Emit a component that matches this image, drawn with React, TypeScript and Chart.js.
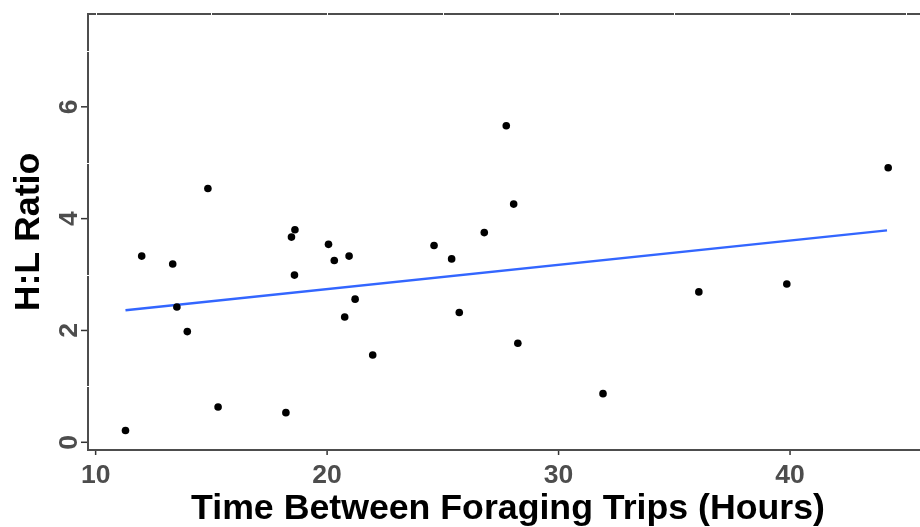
import { useEffect, useRef } from "react";
import { Chart, registerables } from "chart.js";

Chart.register(...registerables);

// Time between foraging trips (hours)
const hoursX = [
  11.29, 11.99, 13.33, 13.51, 13.96, 14.85, 15.29, 18.22, 18.46, 18.61,
  18.59, 20.06, 20.31, 20.76, 20.95, 21.21, 21.97, 24.62, 25.38, 25.71,
  26.79, 27.74, 28.06, 28.24, 31.92, 36.06, 39.86, 44.24,
];
// H:L ratio
const ratioY = [
  0.21, 3.33, 3.19, 2.42, 1.98, 4.54, 0.63, 0.53, 3.67, 3.8,
  2.99, 3.54, 3.25, 2.24, 3.33, 2.56, 1.56, 3.52, 3.28, 2.32,
  3.75, 5.66, 4.26, 1.77, 0.87, 2.69, 2.83, 4.91,
];
// fitted trend line end points
const trendX = [11.29, 44.19];
const trendY = [2.36, 3.79];

const xTicks = [10, 20, 30, 40];
const yTicks = [0, 2, 4, 6];
const xTitle = "Time Between Foraging Trips (Hours)";
const yTitle = "H:L Ratio";

const FONT = '"Liberation Sans", Arial, Helvetica, sans-serif';

const decorPlugin = {
  id: "decor",
  afterDraw(chart: any) {
    const { ctx, chartArea: a, scales } = chart;
    const x = scales.x;
    const y = scales.y;
    ctx.save();
    // top panel border
    ctx.strokeStyle = "#4d4d4d";
    ctx.lineWidth = 2;
    ctx.beginPath();
    ctx.moveTo(a.left - 1, a.top);
    ctx.lineTo(a.right, a.top);
    ctx.stroke();
    // faint white grid traces crossing the border
    ctx.strokeStyle = "#ffffff";
    ctx.lineWidth = 1;
    for (let v = 10; v <= 45; v += 5) {
      const px = Math.round(x.getPixelForValue(v)) + 0.5;
      ctx.beginPath();
      ctx.moveTo(px, a.top - 2);
      ctx.lineTo(px, a.top + 2);
      ctx.stroke();
    }
    for (const v of [1, 3, 5, 7]) {
      const py = Math.round(y.getPixelForValue(v)) + 0.5;
      ctx.beginPath();
      ctx.moveTo(a.left - 2, py);
      ctx.lineTo(a.left + 2, py);
      ctx.stroke();
    }
    // tick marks
    ctx.strokeStyle = "#333333";
    ctx.lineWidth = 1.5;
    xTicks.forEach((v) => {
      const px = x.getPixelForValue(v);
      ctx.beginPath();
      ctx.moveTo(px, a.bottom + 1);
      ctx.lineTo(px, a.bottom + 5);
      ctx.stroke();
    });
    yTicks.forEach((v) => {
      const py = y.getPixelForValue(v);
      ctx.beginPath();
      ctx.moveTo(a.left - 1, py);
      ctx.lineTo(a.left - 7, py);
      ctx.stroke();
    });
    // tick labels
    ctx.fillStyle = "#4d4d4d";
    ctx.font = `bold 26.5px ${FONT}`;
    ctx.textAlign = "center";
    ctx.textBaseline = "alphabetic";
    xTicks.forEach((v) => {
      ctx.fillText(String(v), x.getPixelForValue(v), a.bottom + 33);
    });
    yTicks.forEach((v) => {
      ctx.save();
      ctx.translate(a.left - 11.5, y.getPixelForValue(v));
      ctx.rotate(-Math.PI / 2);
      ctx.fillText(String(v), 0, 0);
      ctx.restore();
    });
    // axis titles
    ctx.fillStyle = "#000000";
    ctx.font = `bold 35.7px ${FONT}`;
    ctx.fillText(xTitle, (a.left + a.right) / 2, a.bottom + 69);
    ctx.save();
    ctx.translate(a.left - 49, (a.top + a.bottom) / 2);
    ctx.rotate(-Math.PI / 2);
    ctx.fillText(yTitle, 0, 0);
    ctx.restore();
    ctx.restore();
  },
};

export default function App() {
  const ref = useRef<HTMLCanvasElement | null>(null);

  useEffect(() => {
    if (!ref.current) return;
    const chart = new Chart(ref.current, {
      type: "scatter",
      data: {
        datasets: [
          {
            type: "line",
            data: trendX.map((v, i) => ({ x: v, y: trendY[i] })),
            borderColor: "#3366FF",
            borderWidth: 2.5,
            pointRadius: 0,
            fill: false,
            order: 1,
          } as any,
          {
            type: "scatter",
            data: hoursX.map((v, i) => ({ x: v, y: ratioY[i] })),
            backgroundColor: "#000000",
            borderColor: "#000000",
            pointRadius: 3.8,
            borderWidth: 0,
            order: 0,
          },
        ],
      },
      options: {
        animation: false,
        responsive: false,
        devicePixelRatio: 1,
        layout: { padding: { top: 14, right: 1, left: 0, bottom: 0 } },
        plugins: {
          legend: { display: false },
          tooltip: { enabled: false },
          title: { display: false },
        },
        scales: {
          x: {
            type: "linear",
            min: 9.67,
            max: 45.96,
            grid: { display: false },
            border: { display: true, color: "#4d4d4d", width: 2 },
            ticks: { display: false },
            afterFit: (s: any) => {
              s.height = 77;
            },
          },
          y: {
            type: "linear",
            min: -0.138,
            max: 7.66,
            grid: { display: false },
            border: { display: true, color: "#4d4d4d", width: 2 },
            ticks: { display: false },
            afterFit: (s: any) => {
              s.width = 88;
            },
          },
        },
      },
      plugins: [decorPlugin],
    });
    return () => chart.destroy();
  }, []);

  return (
    <div
      style={{
        position: "fixed",
        left: 0,
        top: 0,
        width: 920,
        height: 527,
        overflow: "hidden",
        background: "#ffffff",
      }}
    >
      <canvas
        ref={ref}
        width={932}
        height={527}
        style={{ width: 932, height: 527, display: "block" }}
      />
    </div>
  );
}
